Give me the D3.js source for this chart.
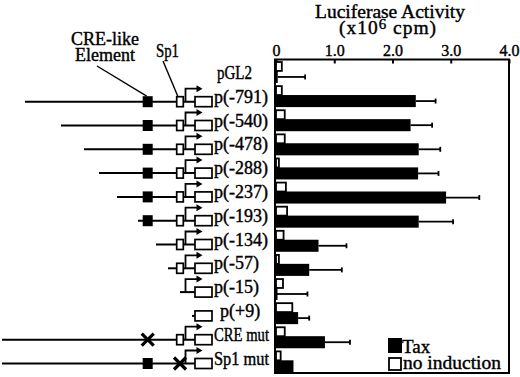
<!DOCTYPE html>
<html>
<head>
<meta charset="utf-8">
<script src="https://cdn.jsdelivr.net/npm/d3@7"></script>
<style>
  body { margin: 0; background: #fff; }
  text { font-family: "Liberation Serif", "Times New Roman", serif; fill: #000; stroke: #000; stroke-width: 0.4px; }
</style>
</head>
<body>
<div id="chart"></div>
<script>
// constructs, top to bottom
var constructs = ["pGL2", "p(-791)", "p(-540)", "p(-478)", "p(-288)", "p(-237)", "p(-193)",
    "p(-134)", "p(-57)", "p(-15)", "p(+9)", "CRE mut", "Sp1 mut"];

// luciferase activity (x10^6 cpm)
var taxValues = [0.03, 2.40, 2.31, 2.45, 2.44, 2.92, 2.45, 0.73, 0.57, 0.01, 0.38, 0.84, 0.30];
var taxErrorTop = [0.50, 2.74, 2.68, 2.82, 2.79, 3.49, 3.04, 1.21, 1.13, 0.54, 0.57, 1.27, null];
var noInduction = [0.10, 0.10, 0.15, 0.15, 0.05, 0.17, 0.19, 0.13, 0.05, 0.12, 0.28, 0.15, 0.08];

// promoter map: 5' end (bp) of each construct and which elements it carries
var fivePrimeEnd = [null, -791, -540, -478, -288, -237, -193, -134, -57, -15, 9, -1100, -1100];
var hasCRE = [0, 1, 1, 1, 1, 1, 1, 0, 0, 0, 0, 2, 1];   // 2 = mutated
var hasSp1 = [0, 1, 1, 1, 1, 1, 1, 1, 1, 0, 0, 1, 2];
var hasTSS = [0, 1, 1, 1, 1, 1, 1, 1, 1, 1, 0, 1, 1];

var xTicks = [0, 1, 2, 3, 4];

function init() {
    var width = 520;
    var height = 377;

    var svg = d3.select("#chart")
        .append("svg")
        .attr("width", width)
        .attr("height", height);

    // bar chart scales
    var x = d3.scaleLinear().domain([0, 4]).range([276, 509]);
    var y = d3.scaleBand().domain(constructs).range([59.5, 373]);
    var bw = y.bandwidth();

    // promoter map scales (schematic, not to scale)
    var ymap = d3.scalePoint().domain(constructs).range([77.9, 363.5]);
    var xmap = d3.scaleLinear()
        .domain([-1100, -791, -540, -478, -288, -237, -193, -134, -57, -15, 9])
        .range([2, 25, 61, 84, 99, 117, 138, 156, 168, 180, 192]);

    var CRE_X = 147.7, SP1_X = 180, TSS_X = 185.5, LUC_X0 = 195, LUC_X1 = 212;

    // Title
    svg.append("text")
        .attr("x", 390).attr("y", 17.5)
        .attr("text-anchor", "middle")
        .style("font-size", "19.5px")
        .text("Luciferase Activity");

    var sub = svg.append("text")
        .attr("x", 388).attr("y", 34)
        .attr("text-anchor", "middle")
        .style("font-size", "19.5px")
        .style("letter-spacing", "1px");
    sub.append("tspan").text("(x10");
    sub.append("tspan").attr("dy", -5).style("font-size", "15px").text("6");
    sub.append("tspan").attr("dy", 5).text(" cpm)");

    // top axis with inward ticks
    var axis = d3.axisTop(x)
        .tickValues(xTicks)
        .tickSize(-4)
        .tickPadding(4)
        .tickFormat(function (d) { return d === 0 ? "0" : d3.format(".1f")(d); });

    var ax = svg.append("g")
        .attr("transform", "translate(0,59.5)")
        .call(axis);
    ax.select(".domain").remove();
    ax.selectAll("line").attr("stroke", "#000").attr("stroke-width", 2);
    ax.selectAll("text")
        .style("font-size", "16px")
        .style("font-family", "Liberation Serif, serif");

    // frame
    svg.append("rect")
        .attr("x", 275).attr("y", 59.5)
        .attr("width", 234).attr("height", 313.5)
        .attr("fill", "none")
        .attr("stroke", "#000")
        .attr("stroke-width", 2);

    var rows = constructs.map(function (c, i) {
        return { name: c, tax: taxValues[i], err: taxErrorTop[i], none: noInduction[i],
                 start: fivePrimeEnd[i], cre: hasCRE[i], sp1: hasSp1[i], tss: hasTSS[i] };
    });

    // no induction bars (open)
    svg.selectAll(".none")
        .data(rows)
        .enter().append("rect")
        .attr("class", "none")
        .attr("x", x(0))
        .attr("y", function (d) { return y(d.name) + 2.5; })
        .attr("width", function (d) { return x(d.none) - x(0); })
        .attr("height", bw * 0.37)
        .attr("fill", "#fff")
        .attr("stroke", "#000")
        .attr("stroke-width", 1.8);

    // Tax bars (black)
    svg.selectAll(".tax")
        .data(rows)
        .enter().append("rect")
        .attr("class", "tax")
        .attr("x", x(0))
        .attr("y", function (d) { return y(d.name) + 2.5 + bw * 0.37; })
        .attr("width", function (d) { return Math.max(x(d.tax) - x(0), 1.5); })
        .attr("height", bw * 0.5)
        .attr("fill", "#000");

    // error bars
    var eb = svg.selectAll(".err")
        .data(rows.filter(function (d) { return d.err != null; }))
        .enter().append("g")
        .attr("class", "err")
        .attr("stroke", "#000")
        .attr("stroke-width", 1.8);
    eb.append("line")
        .attr("x1", function (d) { return x(d.tax); })
        .attr("x2", function (d) { return x(d.err); })
        .attr("y1", function (d) { return y(d.name) + 2.5 + bw * 0.62; })
        .attr("y2", function (d) { return y(d.name) + 2.5 + bw * 0.62; });
    eb.append("line")
        .attr("x1", function (d) { return x(d.err); })
        .attr("x2", function (d) { return x(d.err); })
        .attr("y1", function (d) { return y(d.name) + 2.5 + bw * 0.62 - 2.5; })
        .attr("y2", function (d) { return y(d.name) + 2.5 + bw * 0.62 + 2.5; });

    // legend
    svg.append("rect").attr("x", 388).attr("y", 338).attr("width", 14).attr("height", 15).attr("fill", "#000");
    svg.append("rect").attr("x", 389).attr("y", 358).attr("width", 12).attr("height", 12)
        .attr("fill", "#fff").attr("stroke", "#000").attr("stroke-width", 1.8);
    svg.append("text").attr("x", 402).attr("y", 352.5).style("font-size", "19px").text("Tax");
    svg.append("text").attr("x", 403).attr("y", 369).style("font-size", "19px")
        .attr("textLength", 98).attr("lengthAdjust", "spacingAndGlyphs").text("no induction");

    // promoter maps
    var maps = svg.selectAll(".map")
        .data(rows.filter(function (d) { return d.start != null; }))
        .enter().append("g")
        .attr("class", "map")
        .attr("transform", function (d) { return "translate(0," + ymap(d.name) + ")"; });

    maps.append("line")
        .attr("x1", function (d) { return xmap(d.start); })
        .attr("x2", LUC_X0)
        .attr("stroke", "#000").attr("stroke-width", 2);

    maps.filter(function (d) { return d.cre === 1; })
        .append("rect")
        .attr("x", CRE_X - 5).attr("y", -5.5).attr("width", 10).attr("height", 11)
        .attr("fill", "#000");

    maps.filter(function (d) { return d.sp1 === 1; })
        .append("rect")
        .attr("x", SP1_X - 3.3).attr("y", -5).attr("width", 6.6).attr("height", 10)
        .attr("fill", "#fff").attr("stroke", "#000").attr("stroke-width", 1.7);

    var tss = maps.filter(function (d) { return d.tss === 1; });
    tss.append("path")
        .attr("d", "M" + TSS_X + ",0V-13H198")
        .attr("fill", "none").attr("stroke", "#000").attr("stroke-width", 1.8);
    tss.append("path")
        .attr("d", "M196.5,-16.5L202.5,-13L196.5,-9.5Z")
        .attr("fill", "#000");

    maps.append("rect")
        .attr("x", LUC_X0).attr("y", -5).attr("width", LUC_X1 - LUC_X0).attr("height", 10)
        .attr("fill", "#fff").attr("stroke", "#000").attr("stroke-width", 1.7);

    // mutation crosses
    function cross(sel, cx) {
        sel.append("path")
            .attr("d", "M" + (cx - 6) + ",-6L" + (cx + 6) + ",6M" + (cx - 6) + ",6L" + (cx + 6) + ",-6")
            .attr("stroke", "#000").attr("stroke-width", 3.2).attr("fill", "none");
    }
    cross(maps.filter(function (d) { return d.cre === 2; }), CRE_X);
    cross(maps.filter(function (d) { return d.sp1 === 2; }), SP1_X);

    // construct labels
    svg.selectAll(".lab")
        .data(rows)
        .enter().append("text")
        .attr("class", "lab")
        .attr("x", function (d) {
            if (d.name === "pGL2") return 217;
            if (d.name === "p(+9)") return 220;
            return 214;
        })
        .attr("y", function (d) { return ymap(d.name) + 1; })
        .style("font-size", "18px")
        .each(function (d) {
            if (d.name === "pGL2") d3.select(this).attr("textLength", 35).attr("lengthAdjust", "spacingAndGlyphs");
            if (d.name === "CRE mut" || d.name === "Sp1 mut")
                d3.select(this).attr("textLength", 55).attr("lengthAdjust", "spacingAndGlyphs");
        })
        .text(function (d) { return d.name; });

    // element callouts
    var r1 = ymap("p(-791)");
    svg.append("text").attr("x", 105).attr("y", 45).attr("text-anchor", "middle")
        .style("font-size", "18px").text("CRE-like");
    svg.append("text").attr("x", 105).attr("y", 61).attr("text-anchor", "middle")
        .style("font-size", "18px").text("Element");
    svg.append("text").attr("x", 156).attr("y", 56.5)
        .attr("textLength", 23).attr("lengthAdjust", "spacingAndGlyphs")
        .style("font-size", "18px").text("Sp1");
    svg.append("line").attr("x1", 97).attr("y1", 66).attr("x2", CRE_X - 1).attr("y2", r1 - 5.5)
        .attr("stroke", "#000").attr("stroke-width", 1.4);
    svg.append("line").attr("x1", 163).attr("y1", 61).attr("x2", SP1_X - 2).attr("y2", r1 - 5)
        .attr("stroke", "#000").attr("stroke-width", 1.4);
}

window.onload = init;
</script>
</body>
</html>
